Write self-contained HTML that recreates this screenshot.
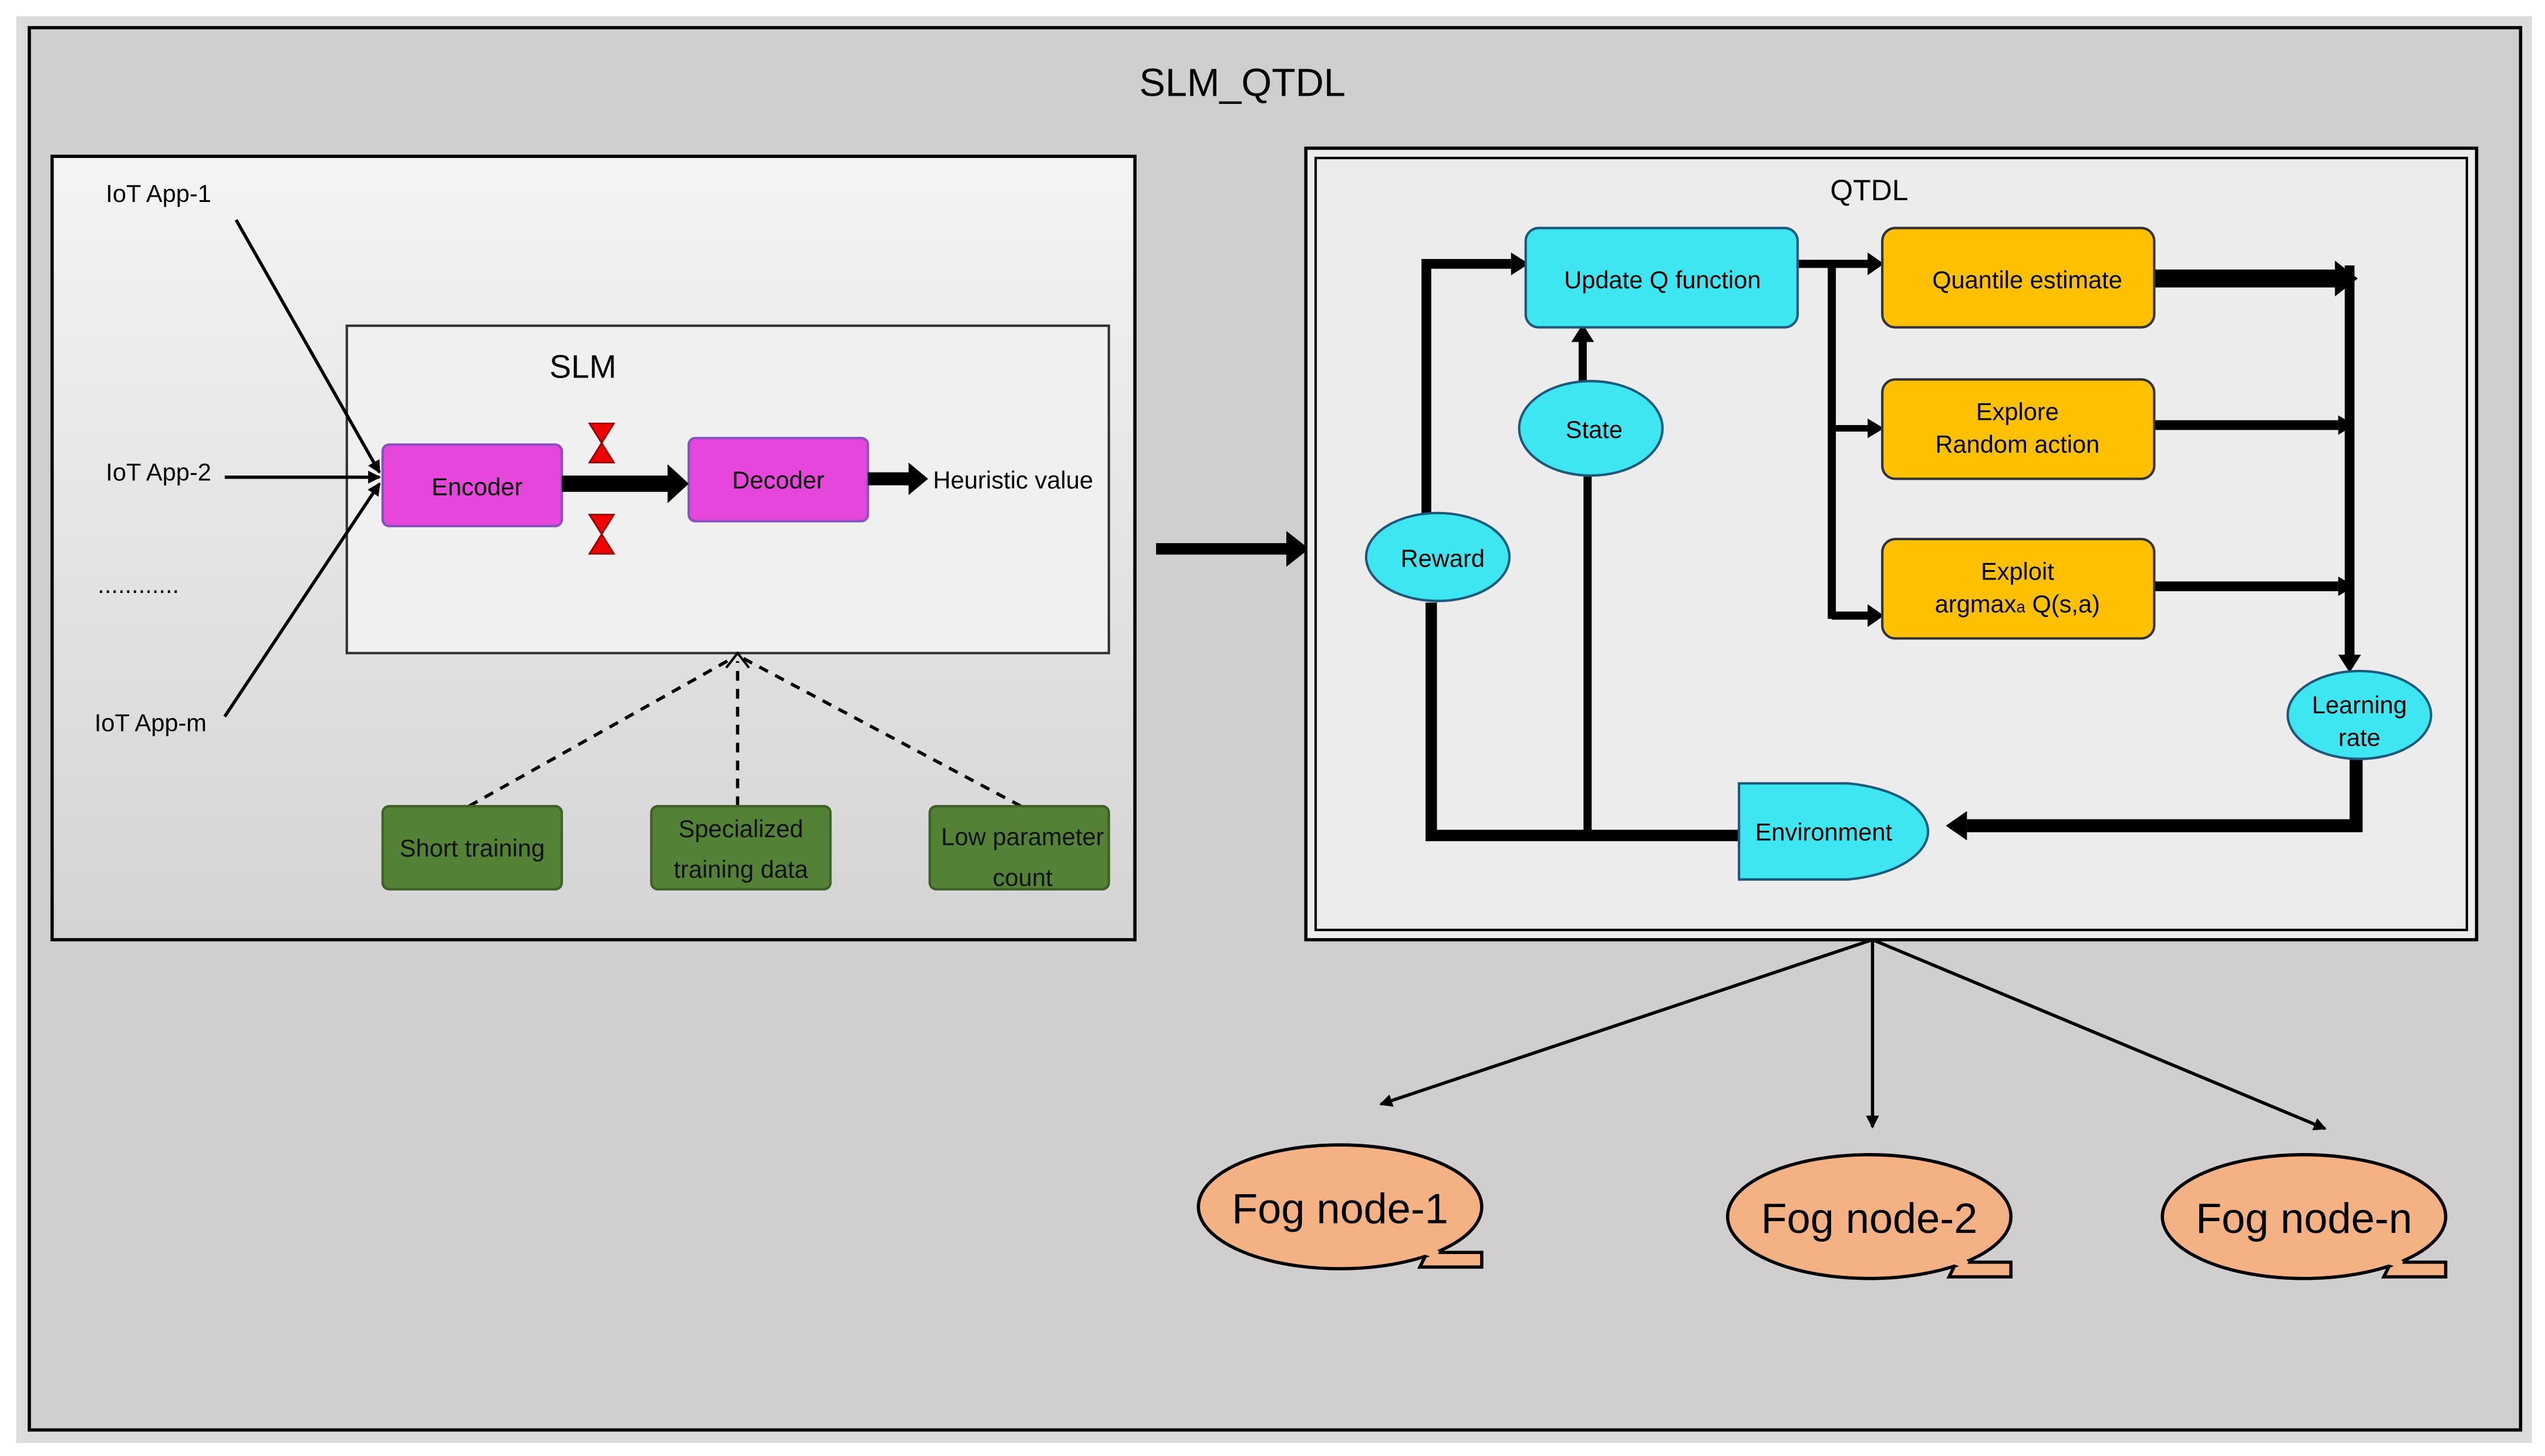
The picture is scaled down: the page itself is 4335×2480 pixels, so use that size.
<!DOCTYPE html>
<html><head><meta charset="utf-8"><style>html,body{margin:0;padding:0;background:#fff}svg{display:block}</style></head><body>
<svg width="4335" height="2480" viewBox="0 0 1563 894" preserveAspectRatio="none" xmlns="http://www.w3.org/2000/svg" font-family="Liberation Sans, sans-serif">
<defs>
<marker id="a" markerWidth="8" markerHeight="8" refX="7" refY="4" orient="auto" markerUnits="userSpaceOnUse"><path d="M0,0 L8,4 L0,8 z" fill="#000"/></marker>
<linearGradient id="g" x1="0" y1="0" x2="0" y2="1"><stop offset="0" stop-color="#f4f4f4"/><stop offset="1" stop-color="#d4d4d4"/></linearGradient>
</defs>
<rect x="10" y="10" width="1545" height="876" fill="#dcdcdc"/>
<rect x="18" y="17" width="1530" height="861" fill="#d0cece" stroke="#000" stroke-width="2"/>
<text x="763" y="59" font-size="24" text-anchor="middle">SLM_QTDL</text>
<rect x="32" y="96" width="665" height="481" fill="url(#g)" stroke="#000" stroke-width="2"/>
<rect x="213" y="200" width="468" height="201" fill="#f0f0f0" stroke="#333" stroke-width="1.5"/>
<text x="358" y="232" font-size="20" text-anchor="middle">SLM</text>
<g font-size="15">
<text x="65" y="124">IoT App-1</text>
<text x="65" y="295">IoT App-2</text>
<text x="60" y="364">............</text>
<text x="58" y="449">IoT App-m</text>
</g>
<line x1="145" y1="135" x2="233" y2="290" stroke="#000" stroke-width="2" marker-end="url(#a)"/>
<line x1="138" y1="293" x2="233" y2="293" stroke="#000" stroke-width="2" marker-end="url(#a)"/>
<line x1="138" y1="440" x2="233" y2="297" stroke="#000" stroke-width="2" marker-end="url(#a)"/>
<rect x="235" y="273" width="110" height="50" rx="4" fill="#e646dc" stroke="#8a4fc0" stroke-width="1.5"/>
<text x="293" y="304" font-size="15" text-anchor="middle">Encoder</text>
<rect x="423" y="269" width="110" height="51" rx="4" fill="#e646dc" stroke="#8a4fc0" stroke-width="1.5"/>
<text x="478" y="300" font-size="15" text-anchor="middle">Decoder</text>
<line x1="345" y1="297" x2="412" y2="297" stroke="#000" stroke-width="10"/><path d="M410,285 L423,297 L410,309z" fill="#000"/>
<line x1="533" y1="294" x2="560" y2="294" stroke="#000" stroke-width="8"/><path d="M558,284 L570,294 L558,304z" fill="#000"/>
<text x="573" y="300" font-size="15">Heuristic value</text>
<path d="M362,260 L377,260 L362,284 L377,284z" fill="#e00" stroke="#900" stroke-width="1"/>
<path d="M362,316 L377,316 L362,340 L377,340z" fill="#e00" stroke="#900" stroke-width="1"/>
<g stroke="#000" stroke-width="2" stroke-dasharray="6,5" fill="none">
<line x1="288" y1="495" x2="450" y2="404"/><line x1="453" y1="495" x2="453" y2="406"/><line x1="627" y1="495" x2="456" y2="404"/>
</g>
<path d="M446,410 L453,401 L460,410" fill="none" stroke="#000" stroke-width="1.5"/>
<g fill="#538135" stroke="#3d6127" stroke-width="1.5">
<rect x="235" y="495" width="110" height="51" rx="4"/><rect x="400" y="495" width="110" height="51" rx="4"/><rect x="571" y="495" width="110" height="51" rx="4"/>
</g>
<g font-size="15" text-anchor="middle" fill="#111">
<text x="290" y="526">Short training</text>
<text x="455" y="514">Specialized</text><text x="455" y="539">training data</text>
<text x="628" y="519">Low parameter</text><text x="628" y="544">count</text>
</g>
<line x1="710" y1="337" x2="792" y2="337" stroke="#000" stroke-width="7"/><path d="M790,326 L804,337 L790,348z" fill="#000"/>
<rect x="802" y="91" width="719" height="486" fill="#ececec" stroke="#000" stroke-width="2"/>
<rect x="808" y="97" width="707" height="474" fill="none" stroke="#000" stroke-width="1.5"/>
<text x="1148" y="123" font-size="18" text-anchor="middle">QTDL</text>
<g stroke="#000" fill="none">
<polyline points="876,316 876,162 928,162" stroke-width="6"/>
<polyline points="879,370 879,513 1068,513" stroke-width="7"/>
<line x1="975" y1="292" x2="975" y2="513" stroke-width="5"/>
<line x1="972" y1="236" x2="972" y2="210" stroke-width="5"/>
<line x1="1104" y1="162" x2="1148" y2="162" stroke-width="5"/>
<line x1="1125" y1="162" x2="1125" y2="380" stroke-width="5"/>
<line x1="1125" y1="263" x2="1148" y2="263" stroke-width="4"/>
<line x1="1125" y1="378" x2="1148" y2="378" stroke-width="5"/>
<line x1="1323" y1="171" x2="1436" y2="171" stroke-width="11"/>
<line x1="1323" y1="261" x2="1436" y2="261" stroke-width="6"/>
<line x1="1323" y1="360" x2="1436" y2="360" stroke-width="6"/>
<line x1="1443" y1="163" x2="1443" y2="404" stroke-width="6"/>
<polyline points="1447,466 1447,507 1208,507" stroke-width="8"/>
</g>
<g fill="#000">
<path d="M928,155 L939,162 L928,169z"/><path d="M965,210 L972,199 L979,210z"/>
<path d="M1147,155 L1157,162 L1147,169z"/><path d="M1147,257 L1157,263 L1147,269z"/><path d="M1147,371 L1157,378 L1147,385z"/>
<path d="M1434,160 L1448,171 L1434,182z"/><path d="M1436,255 L1446,261 L1436,267z"/><path d="M1436,354 L1446,360 L1436,366z"/>
<path d="M1436,402 L1443,413 L1450,402z"/><path d="M1208,498 L1195,507 L1208,516z"/>
</g>
<g stroke="#1b5a7a" stroke-width="1.5">
<rect x="937" y="140" width="167" height="61" rx="8" fill="#3de6f0"/>
<rect x="1156" y="140" width="167" height="61" rx="8" fill="#ffc000" stroke="#333"/>
<rect x="1156" y="233" width="167" height="61" rx="8" fill="#ffc000" stroke="#333"/>
<rect x="1156" y="331" width="167" height="61" rx="8" fill="#ffc000" stroke="#333"/>
<ellipse cx="977" cy="263" rx="44" ry="29" fill="#3de6f0"/>
<ellipse cx="883" cy="342" rx="44" ry="27" fill="#3de6f0"/>
<ellipse cx="1449" cy="439" rx="44" ry="27" fill="#3de6f0"/>
<path d="M1068,481 L1135,481 A60,30 0 0 1 1135,540 L1068,540z" fill="#3de6f0"/>
</g>
<g font-size="15" text-anchor="middle">
<text x="1021" y="177">Update Q function</text>
<text x="1245" y="177">Quantile estimate</text>
<text x="1239" y="258">Explore</text><text x="1239" y="278">Random action</text>
<text x="1239" y="356">Exploit</text><text x="1239" y="376">argmax<tspan font-size="10">a</tspan> Q(s,a)</text>
<text x="979" y="269">State</text>
<text x="886" y="348">Reward</text>
<text x="1449" y="438">Learning</text><text x="1449" y="458">rate</text>
<text x="1120" y="516">Environment</text>
</g>
<g stroke="#000" stroke-width="2">
<line x1="1150" y1="577" x2="848" y2="678" marker-end="url(#a)"/>
<line x1="1150" y1="577" x2="1150" y2="692" marker-end="url(#a)"/>
<line x1="1150" y1="577" x2="1428" y2="693" marker-end="url(#a)"/>
</g>
<g fill="#f4b183" stroke="#000" stroke-width="2">
<path d="M878,762 L884,769 L910,769 L910,778 L872,778 L876,770z"/>
<ellipse cx="823" cy="741" rx="87" ry="38"/>
<path d="M878,762 L884,769 L880,772 L874,770z" stroke="none"/>
<path d="M1203,768 L1209,775 L1235,775 L1235,784 L1197,784 L1201,776z"/>
<ellipse cx="1148" cy="747" rx="87" ry="38"/>
<path d="M1203,768 L1209,775 L1205,778 L1199,776z" stroke="none"/>
<path d="M1470,768 L1476,775 L1502,775 L1502,784 L1464,784 L1468,776z"/>
<ellipse cx="1415" cy="747" rx="87" ry="38"/>
<path d="M1470,768 L1476,775 L1472,778 L1466,776z" stroke="none"/>
</g>
<g font-size="26" text-anchor="middle">
<text x="823" y="751">Fog node-1</text>
<text x="1148" y="757">Fog node-2</text>
<text x="1415" y="757">Fog node-n</text>
</g>
</svg>
</body></html>
